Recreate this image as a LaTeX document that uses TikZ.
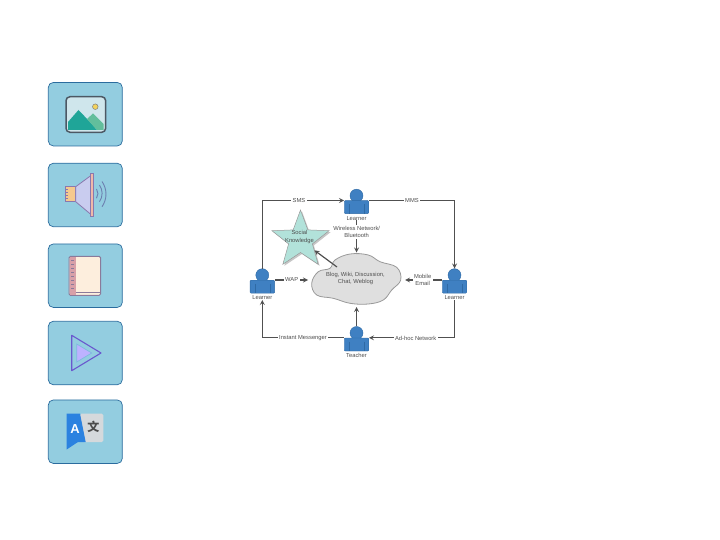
\documentclass[tikz,border=0pt]{standalone}
\usepackage{fontspec}
\setmainfont{Liberation Sans}
\newfontfamily\cjkfont{Noto Sans CJK SC}
\usetikzlibrary{shapes.geometric,shadows}

\definecolor{boxblue}{HTML}{93CDE0}
\definecolor{boxline}{HTML}{2B6C9E}
\definecolor{personblue}{HTML}{3F80C2}
\definecolor{personline}{HTML}{2F6AA5}
\definecolor{wire}{HTML}{505050}
\definecolor{inkgrey}{HTML}{4E4E4E}
\definecolor{framegrey}{HTML}{4C5864}
\definecolor{skyblue}{HTML}{CFE6EC}
\definecolor{hillone}{HTML}{1FA598}
\definecolor{hilltwo}{HTML}{62BE9C}
\definecolor{sunyellow}{HTML}{F2D25C}
\definecolor{coilorange}{HTML}{F5C98E}
\definecolor{conelilac}{HTML}{C9CCEF}
\definecolor{polepink}{HTML}{F0B8A8}
\definecolor{edgeviolet}{HTML}{8A78AE}
\definecolor{waveblue}{HTML}{6C7FB0}
\definecolor{pagecream}{HTML}{FDEEDD}
\definecolor{spinepink}{HTML}{D8A0A8}
\definecolor{bookedge}{HTML}{8A7A9A}
\definecolor{playedge}{HTML}{6A58CE}
\definecolor{playfill}{HTML}{BDB2FF}
\definecolor{playrim}{HTML}{7FB8E0}
\definecolor{langblue}{HTML}{2B82E0}
\definecolor{langgrey}{HTML}{D5D9DC}
\definecolor{startint}{HTML}{B2E2DA}

\tikzset{
    iconbox/.style={draw=boxline, fill=boxblue, line width=0.7pt, rounded corners=5pt, minimum width=74pt, minimum height=63.5pt, inner sep=0pt},
    wire/.style={draw=wire, line width=1.2pt},
    lbl/.style={fill=white, text=inkgrey, font=\fontsize{5.8}{7}\selectfont, align=center, inner sep=1.5pt},
    who/.style={text=inkgrey, font=\fontsize{5.8}{7}\selectfont, inner sep=0pt},
    head/.style={circle, fill=personblue, draw=personline, line width=0.4pt, minimum size=13pt, inner sep=0pt},
    body/.style={fill=personblue, draw=personline, line width=0.4pt, rounded corners=1pt, minimum width=24.5pt, minimum height=13pt, inner sep=0pt}
}

% name, x, y of the body centre, caption
\newcommand{\person}[4]{
    \node[head] (#1head) at (#2,#3-11.5) {};
    \node[body] (#1) at (#2,#3) {};
    \draw[personline, line width=0.5pt] (#2-7.5,#3-3) -- (#2-7.5,#3+6.5);
    \draw[personline, line width=0.5pt] (#2+7.5,#3-3) -- (#2+7.5,#3+6.5);
    \node[who] (#1name) at (#2,#3+11) {#4};
}

\begin{document}
\begin{tikzpicture}[x=1pt, y=-1pt, >=stealth]
    \useasboundingbox (0,0) rectangle (720,540);

    % First the five icon boxes on the left
    \node[iconbox] (imagebox) at (85.3,114.2) {};
    \node[iconbox] (soundbox) at (85.3,195) {};
    \node[iconbox] (bookbox) at (85.3,275.7) {};
    \node[iconbox] (playbox) at (85.3,353) {};
    \node[iconbox] (langbox) at (85.3,431.7) {};

    % The picture icon
    \fill[skyblue, rounded corners=3pt] (66,96.7) rectangle (105.7,132.3);
    \fill[hillone] (68,130) -- (68,122) -- (78.5,110) -- (90,122) -- (97,130) -- cycle;
    \fill[hilltwo] (87,119) -- (93,113.5) -- (103.7,124) -- (103.7,130) -- (97,130) -- cycle;
    \draw[fill=sunyellow, draw=gray, line width=0.5pt] (95.3,106.7) circle (2.8);
    \draw[draw=framegrey, line width=1.5pt, rounded corners=4pt] (66,96.7) rectangle (105.7,132.3);

    % The loudspeaker icon
    \draw[fill=coilorange, draw=edgeviolet, line width=0.8pt] (65,186.7) rectangle (75.7,201.7);
    \foreach \y in {189,192,195,198}
        \draw[edgeviolet, line width=0.4pt] (65,\y) -- (68,\y);
    \draw[fill=conelilac, draw=edgeviolet, line width=0.8pt] (75.7,186.7) -- (91,175.5) -- (91,214.5) -- (75.7,201.7) -- cycle;
    \draw[fill=polepink, draw=edgeviolet, line width=0.8pt] (90,173.3) rectangle (93.2,216.7);
    \draw[waveblue, line width=0.9pt] (96.5,189) arc (-35:35:8);
    \draw[waveblue, line width=0.9pt] (99.5,185) arc (-35:35:14.5);
    \draw[waveblue, line width=0.9pt] (102,181.5) arc (-35:35:22);

    % The notebook icon
    \draw[fill=pagecream, draw=bookedge, line width=1pt, rounded corners=1.5pt] (69,256.3) rectangle (100.7,295.3);
    \fill[spinepink] (69.5,256.8) rectangle (76,294.8);
    \foreach \y in {260,264,...,288}
        \fill[bookedge] (71,\y) rectangle (73.5,\y+1);
    \draw[bookedge, line width=0.5pt] (76,292.5) -- (100.2,292.5);

    % The play icon
    \draw[draw=playedge, line width=1.1pt, line join=round] (71.7,335.3) -- (101,353) -- (71.7,370.7) -- cycle;
    \draw[fill=playfill, draw=playrim, line width=0.7pt] (76.7,344) -- (91.7,353) -- (76.7,362) -- cycle;

    % The translate icon
    \fill[langgrey, rounded corners=1.5pt] (80,413.7) -- (103.3,413.7) -- (103.3,442) -- (83,442) -- cycle;
    \fill[langblue] (66.7,413.7) -- (80,413.7) -- (85.7,442) -- (78,442) -- (66.7,449.5) -- cycle;
    \node[text=white, font=\bfseries\fontsize{13}{13}\selectfont, inner sep=0pt] (langa) at (75,428.7) {A};
    \node[text=black!70, font=\cjkfont\bfseries\fontsize{12}{12}\selectfont, inner sep=0pt] (langb) at (93.3,427) {文};

    % Now the four people
    \person{toplearner}{356.5}{207.2}{Learner}
    \person{leftlearner}{262.3}{286.7}{Learner}
    \person{rightlearner}{454.5}{286.7}{Learner}
    \person{teacher}{356.5}{344.5}{Teacher}

    % Now the star and the cloud
    \node[star, star points=5, star point ratio=2.4, minimum size=60pt, inner sep=0pt, fill=startint, draw=gray!80, line width=0.5pt,
        drop shadow={opacity=0.45, shadow xshift=1.5pt, shadow yshift=-1.5pt}] (knowledge) at (300.5,240) {};
    \draw[fill=gray!25!white, draw=gray!80, line width=0.8pt] plot[smooth cycle, tension=0.65] coordinates {
        (311.7,283.3) (318.3,271.7) (330,268.3) (335,260) (350,254) (368.3,255) (380,261.7) (396.7,267.3)
        (400.7,280) (391.7,290) (383.3,300) (368.3,304) (350,303.3) (333.3,298.3) (316.7,295)};
    \coordinate (cloudtop) at (356.5,252.5);
    \coordinate (cloudbottom) at (356.5,307);
    \coordinate (cloudfoot) at (337,267);
    \coordinate (wapend) at (308,280);
    \coordinate (mailend) at (405,280);

    % Now the connectors
    \draw[wire, ->] (leftlearnerhead.north) |- (toplearner.north west);
    \draw[wire, ->] (toplearner.north east) -| (rightlearnerhead.north);
    \draw[wire, ->] (rightlearnername.south) |- (teacher.north east);
    \draw[wire, ->] (teacher.north west) -| (leftlearnername.south);
    \draw[wire, ->] (toplearnername.south) -- (cloudtop);
    \draw[wire, ->] (teacherhead.north) -- (cloudbottom);
    \draw[wire, ->] (leftlearner.north east) -- (wapend);
    \draw[wire, ->] (rightlearner.north west) -- (mailend);
    \draw[wire, ->] (cloudfoot) -- (knowledge);

    % And the labels on top of them
    \node[lbl] (smslabel) at (299,200.7) {SMS};
    \node[lbl] (mmslabel) at (412,200.7) {MMS};
    \node[lbl] (wirelesslabel) at (356.7,232) {Wireless Network/\\Bluetooth};
    \node[lbl] (waplabel) at (291.7,280) {WAP};
    \node[lbl] (maillabel) at (422.7,280) {Mobile\\Email};
    \node[lbl] (adhoclabel) at (415.7,338) {Ad-hoc Network};
    \node[lbl] (imlabel) at (303,338) {Instant Messenger};
    \node[lbl, fill=none] (starlabel) at (299.5,237) {Social\\Knowledge};
    \node[lbl, fill=none] (blogcloud) at (355.5,278) {Blog, Wiki, Discussion,\\Chat, Weblog};
\end{tikzpicture}
\end{document}
